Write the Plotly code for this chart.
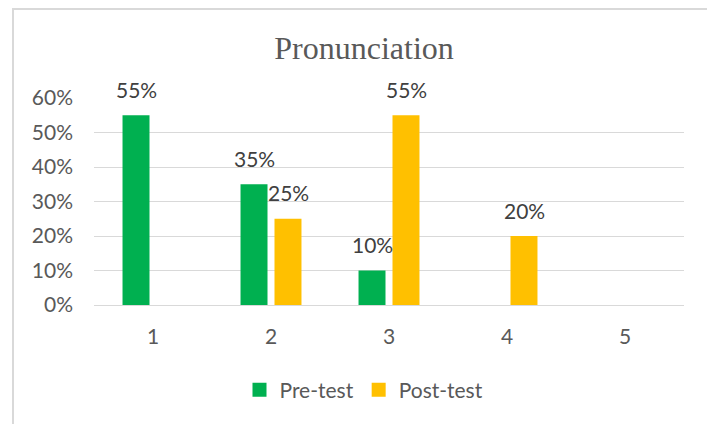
import plotly.graph_objects as go

categories = ["1", "2", "3", "4", "5"]
pre_test = [0.55, 0.35, 0.10, 0.0, 0.0]
post_test = [0.0, 0.25, 0.55, 0.20, 0.0]
series_names = ["Pre-test", "Post-test"]
series_colors = ["#00B050", "#FFC000"]
y_ticks = [0, 0.1, 0.2, 0.3, 0.4, 0.5, 0.6]
y_tick_labels = ["0%", "10%", "20%", "30%", "40%", "50%", "60%"]

FONT = "Lato"
# page has an 8px body margin, so figure coordinates are offset by 8px
W, H = 707, 416
L, R, T, B = 86, 31, 90, 119

fig = go.Figure()
for name, vals, col in zip(series_names, [pre_test, post_test], series_colors):
    fig.add_trace(go.Bar(x=categories, y=vals, name=name, showlegend=False,
                         marker=dict(color=col, line=dict(width=0))))
# legend entries with larger square keys
for name, col in zip(series_names, series_colors):
    fig.add_trace(go.Scatter(x=[None], y=[None], name=name, mode="markers",
                             marker=dict(symbol="square", size=14, color=col)))

# data labels above bars (non-zero values only)
for vals, shift in zip([pre_test, post_test], [-17, 17]):
    for idx, v in enumerate(vals):
        if v > 0:
            fig.add_annotation(x=idx, y=v, xref="x", yref="y",
                               text=f"{round(v*100)}%", showarrow=False,
                               xshift=shift, yshift=26, yanchor="middle",
                               font=dict(family=FONT, size=21, color="#404040"))

pw = W - L - R
ph = H - T - B
fig.add_shape(type="rect", xref="paper", yref="paper",
              x0=(5 - L) / pw, x1=(705 - L) / pw,
              y0=(H - B - 440) / ph, y1=(H - B - 1) / ph,
              line=dict(color="#D9D9D9", width=2), layer="below")

fig.update_layout(
    width=W, height=H,
    margin=dict(l=L, r=R, t=T, b=B, pad=0),
    paper_bgcolor="white", plot_bgcolor="white",
    barmode="group", bargap=0.424, bargroupgap=0.206,
    title=dict(text="Pronunciation", x=356 / W, xanchor="center", xref="container",
               y=1 - 40 / H, yanchor="middle", yref="container",
               font=dict(family="Liberation Serif", size=32, color="#595959")),
    legend=dict(orientation="h", xref="container", yref="container",
                x=356 / W, xanchor="center", y=1 - 382 / H, yanchor="middle",
                font=dict(family=FONT, size=21, color="#595959"),
                itemclick=False, itemwidth=30),
    xaxis=dict(type="category", showgrid=False, showline=False, ticks="",
               ticklabelstandoff=17,
               tickfont=dict(family=FONT, size=21, color="#595959")),
    yaxis=dict(range=[0, 0.6], tickvals=y_ticks, ticktext=y_tick_labels,
               showgrid=True, gridcolor="#D9D9D9", gridwidth=1,
               zeroline=True, zerolinecolor="#D9D9D9", zerolinewidth=1,
               showline=False, ticks="", ticklabelstandoff=20,
               tickfont=dict(family=FONT, size=21, color="#595959")),
)

fig.write_html("out.html")
